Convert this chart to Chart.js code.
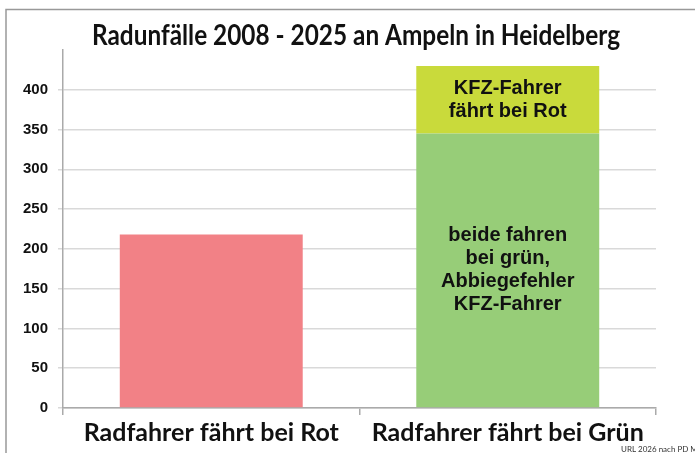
<!DOCTYPE html>
<html>
<head>
<meta charset="utf-8">
<script src="https://cdn.jsdelivr.net/npm/chart.js@4/dist/chart.umd.min.js"></script>
<style>
  body { margin: 0; background: #fff; }
  #wrap { width: 695px; height: 453px; position: relative; }
</style>
</head>
<body>
<div id="wrap"><canvas id="chart"></canvas></div>
<script>
// data
const categories = ['Radfahrer fährt bei Rot', 'Radfahrer fährt bei Grün'];
const redValues = [218, null];     // Radfahrer fährt bei Rot
const greenValues = [null, 345];   // beide fahren bei grün, Abbiegefehler KFZ-Fahrer
const limeValues = [null, 85];     // KFZ-Fahrer fährt bei Rot
const greenText = ['beide fahren', 'bei grün,', 'Abbiegefehler', 'KFZ-Fahrer'];
const limeText = ['KFZ-Fahrer', 'fährt bei Rot'];
const yMax = 450;
const yStep = 50;
const titleText = 'Radunfälle 2008 - 2025 an Ampeln in Heidelberg';
const sourceText = 'URL 2026 nach PD Mannheim';

const humanist = 'Lato, "Open Sans", sans-serif';
const arial = '"Liberation Sans", Arial, sans-serif';

const barText = {
    id: 'barText',
    afterDatasetsDraw(chart) {
        const ctx = chart.ctx;
        ctx.save();
        ctx.fillStyle = '#111';
        ctx.font = 'bold 20px ' + arial;
        ctx.textAlign = 'center';
        ctx.textBaseline = 'middle';
        chart.data.datasets.forEach((ds, i) => {
            if (!ds.innerText) return;
            chart.getDatasetMeta(i).data.forEach((el, j) => {
                const lines = ds.innerText[j];
                if (!lines) return;
                const cy = (el.y + el.base) / 2;
                const lh = 23;
                lines.forEach((t, k) => {
                    ctx.fillText(t, el.x, cy + (k - (lines.length - 1) / 2) * lh);
                });
            });
        });
        ctx.restore();
    },
    afterDraw(chart) {
        const ctx = chart.ctx;
        ctx.save();
        // frame
        ctx.strokeStyle = '#999';
        ctx.lineWidth = 1.5;
        ctx.beginPath();
        ctx.moveTo(6, 453);
        ctx.lineTo(6, 9.5);
        ctx.lineTo(695, 9.5);
        ctx.stroke();
        // title
        ctx.fillStyle = '#111';
        ctx.font = 'bold 28px ' + humanist;
        ctx.textAlign = 'center';
        ctx.textBaseline = 'alphabetic';
        ctx.fillText(titleText, 356, 45, 528);
        // source note
        ctx.font = '8px ' + humanist;
        ctx.textAlign = 'left';
        ctx.fillStyle = '#333';
        ctx.fillText(sourceText, 621, 452);
        ctx.restore();
    }
};

new Chart(document.getElementById('chart'), {
    type: 'bar',
    data: {
        labels: categories,
        datasets: [
            { label: 'Rot', data: redValues, backgroundColor: '#F28186' },
            { label: 'Grün', data: greenValues, backgroundColor: '#97CD78', innerText: [null, greenText] },
            { label: 'KFZ Rot', data: limeValues, backgroundColor: '#C9DA3B', innerText: [null, limeText] }
        ]
    },
    options: {
        responsive: true,
        maintainAspectRatio: false,
        animation: false,
        barPercentage: 0.617,
        categoryPercentage: 1,
        layout: { padding: { top: 50, right: 39, bottom: 0, left: 0 } },
        plugins: {
            legend: { display: false },
            tooltip: { enabled: false }
        },
        scales: {
            x: {
                stacked: true,
                afterFit: s => { s.height = 45; },
                border: { color: '#aaa', width: 1.5 },
                grid: { offset: true, drawOnChartArea: false, drawTicks: true, tickLength: 7, color: '#aaa', lineWidth: 1.5 },
                ticks: { color: '#111', font: { family: humanist, size: 25, weight: 'bold' }, padding: 3, maxRotation: 0, autoSkip: false }
            },
            y: {
                stacked: true,
                min: 0,
                max: yMax,
                afterFit: s => { s.width = 63; },
                border: { color: '#aaa', width: 1.5 },
                grid: {
                    color: c => (c.tick && c.tick.value === yMax) ? 'rgba(0,0,0,0)' : '#d9d9d9',
                    lineWidth: 1.5,
                    tickLength: 5
                },
                ticks: {
                    stepSize: yStep,
                    color: '#111',
                    padding: 10,
                    font: { family: arial, size: 15, weight: 'bold' },
                    callback: v => v === yMax ? '' : v
                }
            }
        }
    },
    plugins: [barText]
});
</script>
</body>
</html>
